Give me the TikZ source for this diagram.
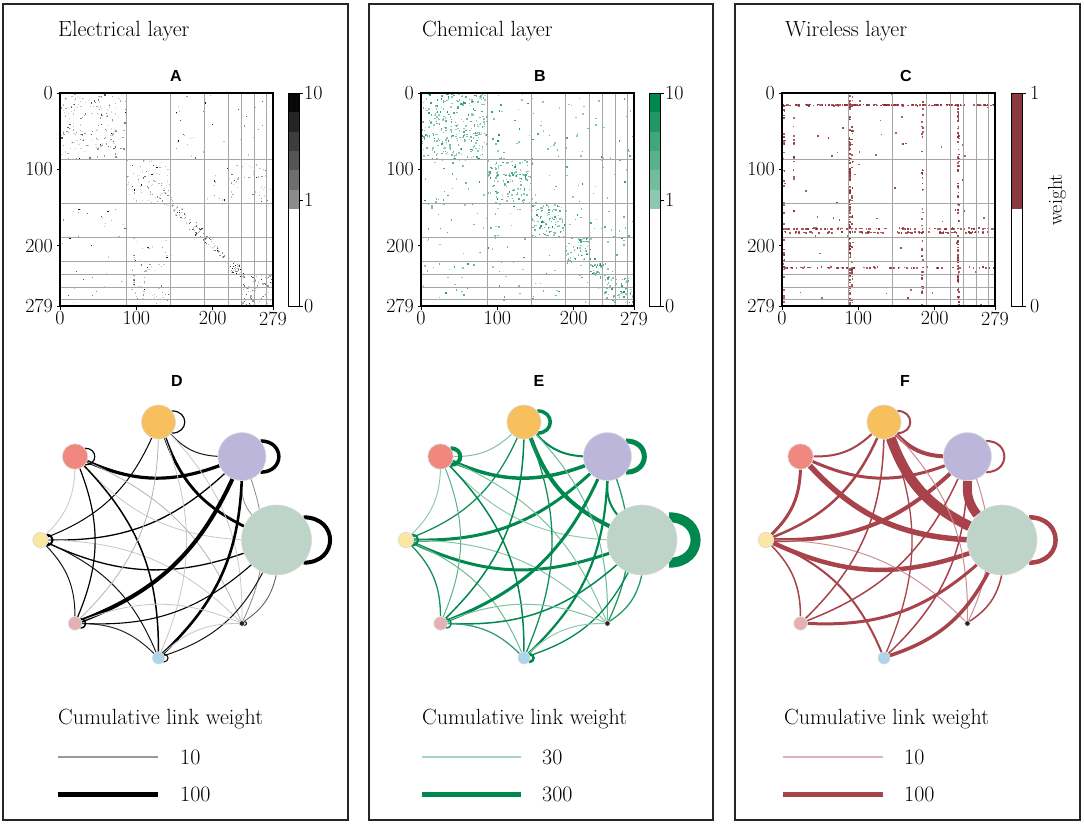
\documentclass[tikz,border=0pt]{standalone}
\usepackage{fontspec}
\newfontfamily\hv{Liberation Sans}
\pgfdeclarelayer{edges}
\pgfdeclarelayer{bgfill}
\pgfsetlayers{bgfill,edges,main}
\definecolor{chemG}{HTML}{00884F}
\definecolor{wireR}{HTML}{A8434B}
\definecolor{matR}{HTML}{8B2A33}
\definecolor{cbR}{HTML}{8B3A3F}
\definecolor{cOr}{HTML}{F8C05C}
\definecolor{cPu}{HTML}{BDB6DB}
\definecolor{cGr}{HTML}{BFD4C8}
\definecolor{cRe}{HTML}{F08880}
\definecolor{cYe}{HTML}{FBE7A0}
\definecolor{cPk}{HTML}{E5B0B1}
\definecolor{cBl}{HTML}{ABD5EB}
\definecolor{cBk}{HTML}{231F20}
\colorlet{Dlt}{black!22}
\colorlet{Elt}{chemG!30}
\colorlet{Flt}{wireR!35}
\tikzset{
  panel/.style={draw=black!85, line width=1.3pt},
  ttl/.style={font=\fontsize{22}{26}\selectfont, anchor=base west, inner sep=0pt},
  lbl/.style={font=\hv\bfseries\fontsize{16}{18}\selectfont, inner sep=0pt},
  tck/.style={font=\fontsize{20}{24}\selectfont, inner sep=0pt},
  gridl/.style={draw=black!35, line width=0.9pt},
  netnode/.style={circle, inner sep=0pt, draw=white!85!black, line width=0.6pt},
}
% scatter dots in a matrix
\newcommand\scat[7]{%
  \foreach \k in {1,...,#1}{%
    \pgfmathsetmacro\rr{#2+rnd*(#3-#2)}%
    \pgfmathsetmacro\cc{#4+rnd*(#5-#4)}%
    \pgfmathsetmacro\op{\opmin+(1-\opmin)*rnd*rnd}%
    \fill[#6, fill opacity=\op] ({\mx+\cc*0.7634},{-\my-\rr*0.7634}) rectangle ++(\ds,-\ds);
    \ifnum#7=1 \fill[#6, fill opacity=\op] ({\mx+\rr*0.7634},{-\my-\cc*0.7634}) rectangle ++(\ds,-\ds);\fi
  }}
\newcommand\dscat[6]{%
  \foreach \k in {1,...,#1}{%
    \pgfmathsetmacro\rr{#2+rnd*(#3-#2)}%
    \pgfmathsetmacro\cc{max(0,min(277,\rr+(rnd-0.5)*2*#4))}%
    \pgfmathsetmacro\op{\opmin+(1-\opmin)*rnd*rnd}%
    \fill[#5, fill opacity=\op] ({\mx+\cc*0.7634},{-\my-\rr*0.7634}) rectangle ++(\ds,-\ds);
    \ifnum#6=1 \fill[#5, fill opacity=\op] ({\mx+\rr*0.7634},{-\my-\cc*0.7634}) rectangle ++(\ds,-\ds);\fi
  }}
% matrix frame, grid, ticks
\newcommand\mframe[2]{%
  \foreach \b in {87,145,189,221,238,255,270}{%
    \draw[gridl] ({#1+\b*0.7634},{-#2}) -- ({#1+\b*0.7634},{-#2-213});
    \draw[gridl] ({#1},{-#2-\b*0.7634}) -- ({#1+213},{-#2-\b*0.7634});}
  \draw[line width=1.1pt] (#1,-#2) rectangle ({#1+213},{-#2-213});
  \foreach \t in {0,100,200,279}{%
    \draw[line width=0.8pt] ({#1},{-#2-\t*0.7634}) -- ++(-3.5,0);
    \node[tck, anchor=east] at ({#1-7},{-#2-\t*0.7634}) {\t};
    \draw[line width=0.8pt] ({#1+\t*0.7634},{-#2-213}) -- ++(0,-3.5);
    \node[tck, anchor=north] at ({#1+\t*0.7634},{-#2-218.5}) {\t};}}
% network nodes
\newcommand\netnodes[2]{%
  \foreach \nm/\ang/\rad/\col in {Y/180/7.7/cYe,R/135/12.7/cRe,O/90/17/cOr,P/45/24/cPu,G/0/35/cGr,K/-45/2.7/cBk,B/-90/6/cBl,N/-135/6.7/cPk}{%
    \node[netnode, minimum size=2*\rad pt, fill=\col] (#1\nm) at ({#2+118*cos(\ang)},{-540+118*sin(\ang)}) {};}}
\newcommand\ed[4]{\draw[line width=#3pt, draw=\dkc!#4!\ltc] (\pfx#1) to[bend right=22] (\pfx#2);}
\newcommand\lp[2]{\draw[line width=#2pt, draw=\dkc] (\pfx#1.40) to[out=0,in=0,looseness=2] (\pfx#1.-40);}

\begin{document}
\begin{tikzpicture}[x=1pt,y=1pt]
\useasboundingbox (0,0) rectangle (1084,-825);
\begin{pgfonlayer}{bgfill}
\fill[white] (0,0) rectangle (1084,-825);
\end{pgfonlayer}
% panels
\draw[panel] (3,-4) rectangle (348,-820);
\draw[panel] (369,-4) rectangle (713,-820);
\draw[panel] (735,-4) rectangle (1080,-820);
% titles
\node[ttl] (t1) at (58,-36) {Electrical layer};
\node[ttl] (t2) at (422,-36) {Chemical layer};
\node[ttl] (t3) at (785,-36) {Wireless layer};
\node[lbl] (lA) at (176,-75.5) {A};
\node[lbl] (lB) at (540,-75.5) {B};
\node[lbl] (lC) at (906,-75.5) {C};
\node[lbl] (lD) at (177,-381) {D};
\node[lbl] (lE) at (539,-381) {E};
\node[lbl] (lF) at (905,-381) {F};

% ===== matrix A =====
\pgfmathsetseed{11}
\def\mx{60}\def\my{93}\def\ds{1.2}\def\opmin{0.15}
\scat{95}{0}{87}{0}{87}{black}{1}
\scat{45}{87}{145}{87}{145}{black}{1}
\dscat{28}{145}{189}{9}{black}{1}
\dscat{34}{189}{238}{6}{black}{1}
\scat{18}{221}{238}{221}{238}{black}{1}
\scat{35}{238}{278}{238}{278}{black}{1}
\scat{25}{87}{145}{221}{278}{black}{1}
\scat{10}{0}{87}{145}{189}{black}{1}
\scat{15}{87}{145}{189}{221}{black}{1}
\scat{20}{221}{278}{87}{145}{black}{1}
\scat{15}{145}{278}{0}{87}{black}{1}
\scat{10}{0}{87}{221}{278}{black}{1}
\scat{12}{180}{278}{96}{97}{black}{0}
\mframe{60}{93}
% colorbar A
\foreach \i/\c in {0/45,1/57,2/67,3/76,4/86,5/97}{%
  \fill[black!\c] (288,{-209+\i*19.33}) rectangle (299.5,{-209+(\i+1)*19.33});}
\draw[line width=0.8pt] (288,-93) rectangle (299.5,-306);
\foreach \v/\y in {10/93,1/200,0/306}{%
  \draw[line width=0.8pt] (299.5,-\y) -- ++(3.5,0);
  \node[tck, anchor=west] at (304,-\y) {\v};}

% ===== matrix B =====
\pgfmathsetseed{23}
\def\mx{421}\def\my{93}\def\ds{1.5}\def\opmin{0.4}
\scat{260}{0}{87}{0}{87}{chemG}{0}
\scat{120}{87}{145}{87}{145}{chemG}{0}
\scat{85}{145}{189}{145}{189}{chemG}{0}
\scat{45}{189}{221}{189}{221}{chemG}{0}
\scat{30}{221}{238}{221}{238}{chemG}{0}
\scat{55}{238}{278}{238}{278}{chemG}{0}
\scat{300}{0}{278}{0}{278}{chemG}{0}
\mframe{421}{93}
% colorbar B
\foreach \i/\c in {0/45,1/55,2/65,3/75,4/87,5/100}{%
  \fill[chemG!\c] (649,{-209+\i*19.33}) rectangle (660.5,{-209+(\i+1)*19.33});}
\draw[line width=0.8pt] (649,-93) rectangle (660.5,-306);
\foreach \v/\y in {10/93,1/200,0/306}{%
  \draw[line width=0.8pt] (660.5,-\y) -- ++(3.5,0);
  \node[tck, anchor=west] at (665,-\y) {\v};}

% ===== matrix C =====
\pgfmathsetseed{37}
\def\mx{782}\def\my{93}\def\ds{1.7}\def\opmin{0.7}
\scat{150}{14}{15.5}{0}{277}{matR}{0}
\scat{80}{176}{177.5}{0}{277}{matR}{0}
\scat{80}{181}{182.5}{0}{277}{matR}{0}
\scat{70}{227}{228.5}{0}{277}{matR}{0}
\scat{120}{0}{277}{87}{88.5}{matR}{0}
\scat{40}{0}{277}{90}{91.5}{matR}{0}
\scat{45}{10}{277}{182}{183.5}{matR}{0}
\scat{90}{0}{277}{229}{230.5}{matR}{0}
\scat{40}{20}{277}{1}{2.5}{matR}{0}
\scat{15}{20}{160}{14}{15}{matR}{0}
\scat{50}{0}{277}{0}{277}{matR}{0}
\mframe{782}{93}
% colorbar C
\fill[cbR] (1011,-93) rectangle (1022.5,-209);
\draw[line width=0.8pt] (1011,-93) rectangle (1022.5,-306);
\foreach \v/\y in {1/93,0/306}{%
  \draw[line width=0.8pt] (1022.5,-\y) -- ++(3.5,0);
  \node[tck, anchor=west] at (1030,-\y) {\v};}
\node[tck, rotate=90] (wlab) at (1057,-200) {weight};

% ===== networks =====
\netnodes{D}{158.5}
\netnodes{E}{524}
\netnodes{F}{884}

\begin{pgfonlayer}{edges}
% D electrical
\def\pfx{D}\def\dkc{black}\def\ltc{Dlt}
\ed{Y}{R}{0.8}{0}
\ed{Y}{O}{1.0}{100}
\ed{Y}{P}{1.3}{100}
\ed{Y}{G}{1.3}{100}
\ed{K}{Y}{0.8}{0}
\ed{B}{Y}{1.0}{90}
\ed{N}{Y}{1.0}{90}
\ed{R}{P}{3.2}{100}
\ed{R}{G}{0.8}{0}
\ed{K}{R}{0.8}{10}
\ed{B}{R}{1.5}{100}
\ed{N}{R}{1.2}{100}
\ed{O}{P}{1.0}{90}
\ed{O}{G}{2.8}{100}
\ed{K}{O}{0.8}{0}
\ed{B}{O}{0.8}{0}
\ed{N}{O}{0.8}{10}
\ed{P}{G}{0.8}{30}
\ed{K}{P}{0.8}{30}
\ed{B}{P}{2.6}{100}
\ed{N}{P}{4.0}{100}
\ed{K}{G}{0.9}{50}
\ed{B}{G}{1.0}{90}
\ed{N}{G}{1.1}{100}
\ed{K}{B}{0.8}{0}
\ed{K}{N}{0.8}{0}
\ed{B}{N}{1.0}{80}
\lp{O}{1.2}\lp{P}{3.5}\lp{G}{4}\lp{R}{1.2}\lp{Y}{2}\lp{N}{1.5}\lp{B}{1}\lp{K}{1}
% E chemical
\def\pfx{E}\def\dkc{chemG}\def\ltc{Elt}
\ed{Y}{R}{1.0}{20}
\ed{Y}{O}{1.3}{90}
\ed{Y}{P}{3.0}{100}
\ed{Y}{G}{3.0}{100}
\ed{K}{Y}{1.0}{25}
\ed{B}{Y}{1.0}{40}
\ed{N}{Y}{1.3}{90}
\ed{R}{O}{1.0}{30}
\ed{R}{P}{3.5}{100}
\ed{R}{G}{1.0}{20}
\ed{K}{R}{1.0}{30}
\ed{B}{R}{1.5}{100}
\ed{N}{R}{1.0}{50}
\ed{O}{P}{2.0}{100}
\ed{O}{G}{4.0}{100}
\ed{K}{O}{1.0}{40}
\ed{B}{O}{1.3}{90}
\ed{N}{O}{1.5}{100}
\ed{P}{G}{2.0}{100}
\ed{K}{P}{1.3}{80}
\ed{B}{P}{2.2}{100}
\ed{N}{P}{3.0}{100}
\ed{K}{G}{1.3}{80}
\ed{B}{G}{1.3}{100}
\ed{N}{G}{1.5}{100}
\ed{K}{B}{1.0}{20}
\ed{K}{N}{1.0}{30}
\ed{B}{N}{1.3}{70}
\lp{O}{3.5}\lp{P}{5}\lp{G}{10}\lp{R}{4}\lp{Y}{2}\lp{N}{1.5}\lp{B}{2.5}
% F wireless
\def\pfx{F}\def\dkc{wireR}\def\ltc{Flt}
\ed{Y}{R}{3.0}{100}
\ed{Y}{O}{2.5}{100}
\ed{Y}{P}{4.0}{100}
\ed{Y}{G}{4.5}{100}
\ed{K}{Y}{1.0}{35}
\ed{B}{Y}{2.0}{100}
\ed{N}{Y}{1.5}{100}
\ed{R}{O}{2.0}{100}
\ed{R}{P}{3.0}{100}
\ed{R}{G}{5.5}{100}
\ed{O}{P}{4.0}{100}
\ed{O}{G}{10}{100}
\ed{K}{O}{1.0}{40}
\ed{B}{O}{1.3}{100}
\ed{N}{O}{1.5}{100}
\ed{P}{G}{9}{100}
\ed{K}{P}{1.0}{40}
\ed{B}{P}{1.5}{100}
\ed{N}{P}{1.5}{100}
\ed{K}{G}{1.5}{100}
\ed{B}{G}{3.5}{100}
\ed{N}{G}{3.0}{100}
\lp{O}{2}\lp{P}{2}\lp{G}{4.5}
\end{pgfonlayer}

% ===== legends =====
\node[ttl] (cD) at (58,-724) {Cumulative link weight};
\node[ttl] (cE) at (422,-724) {Cumulative link weight};
\node[ttl] (cF) at (784,-724) {Cumulative link weight};
\coordinate (D1a) at (58,-757); \coordinate (D1b) at (158,-757);
\coordinate (D2a) at (58,-794); \coordinate (D2b) at (158,-794);
\draw[line width=1.3pt, black!40] (D1a) -- (D1b);
\draw[line width=5pt, black] (D2a) -- (D2b);
\node[ttl] (D1l) at (180,-764) {10};
\node[ttl] (D2l) at (180,-801) {100};
\coordinate (E1a) at (422,-757); \coordinate (E1b) at (521,-757);
\coordinate (E2a) at (422,-794); \coordinate (E2b) at (521,-794);
\draw[line width=1.3pt, chemG!35] (E1a) -- (E1b);
\draw[line width=5pt, chemG] (E2a) -- (E2b);
\node[ttl] (E1l) at (542,-764) {30};
\node[ttl] (E2l) at (542,-801) {300};
\coordinate (F1a) at (783,-757); \coordinate (F1b) at (883,-757);
\coordinate (F2a) at (783,-794); \coordinate (F2b) at (883,-794);
\draw[line width=1.3pt, wireR!40] (F1a) -- (F1b);
\draw[line width=5pt, wireR] (F2a) -- (F2b);
\node[ttl] (F1l) at (904,-764) {10};
\node[ttl] (F2l) at (904,-801) {100};
\end{tikzpicture}
\end{document}
